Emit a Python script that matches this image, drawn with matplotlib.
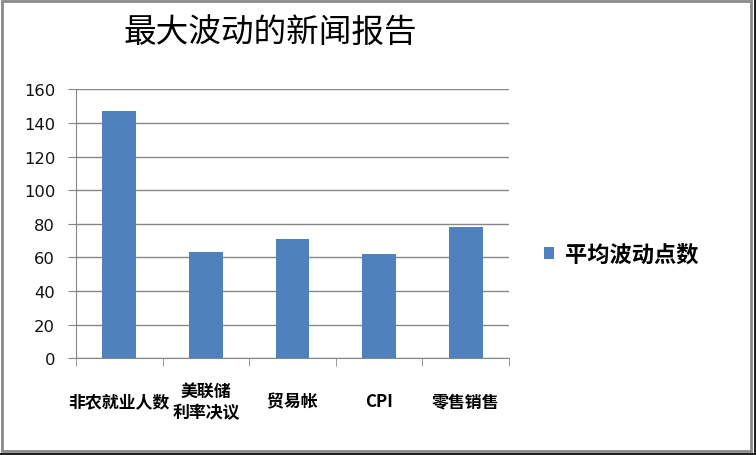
import matplotlib
matplotlib.use("Agg")
import matplotlib.pyplot as plt
from matplotlib.patches import Rectangle
import numpy as np

plt.rcParams['font.family'] = ['Noto Sans CJK SC', 'DejaVu Sans']

title = "最大波动的新闻报告"
categories = ["非农就业人数", "美联储\n利率决议", "贸易帐", "CPI", "零售销售"]
values = [147, 63, 71, 62, 78]
series_name = "平均波动点数"
yticks = [0, 20, 40, 60, 80, 100, 120, 140, 160]

W, H = 756, 456
fig = plt.figure(figsize=(W / 100, H / 100), dpi=100)
ax = fig.add_axes([76 / W, 1 - 359.3 / H, (509 - 76) / W, (359.3 - 90.3) / H])

x = np.arange(len(categories))
bars = ax.bar(x, values, width=0.39, color="#4F81BD", zorder=3, label=series_name)

ax.set_xlim(-0.5, len(categories) - 0.5)
ax.set_ylim(0, 160)
ax.set_yticks(yticks)
ax.yaxis.grid(True, color="#868686", linewidth=1, zorder=0)
ax.tick_params(axis='y', length=6, color="#868686", pad=9, labelcolor="#111111")
for lab in ax.get_yticklabels():
    lab.set_fontfamily('DejaVu Sans')
    lab.set_fontsize(11.8)

# category labels centred, ticks at boundaries
ax.set_xticks(x)
ax.set_xticklabels(categories, fontsize=12.2, fontweight='bold', linespacing=1.25)
ax.tick_params(axis='x', which='major', length=0, pad=31)
for lab in ax.get_xticklabels():
    lab.set_verticalalignment('center')
ax.set_xticks(np.arange(-0.5, len(categories)), minor=True)
ax.tick_params(axis='x', which='minor', length=6, color="#868686")

for side in ['top', 'right']:
    ax.spines[side].set_visible(False)
for side in ['left', 'bottom']:
    ax.spines[side].set_color("#868686")

fig.text(270 / W, 1 - 33 / H, title, fontsize=23.5, ha='center', va='center', color="#000000")

fig.legend(handles=[bars], labels=[series_name], loc='center left',
           bbox_to_anchor=(524 / W, 1 - 255 / H), frameon=False,
           prop={'size': 16, 'weight': 'bold'}, handlelength=0.45, handleheight=0.45,
           handletextpad=0.5)

# outer frame
fig.patches.append(Rectangle((1.5 / W, 4 / H), (751 - 1.5) / W, (454.5 - 4) / H,
                             transform=fig.transFigure, fill=False,
                             edgecolor="#8a8a8a", linewidth=2))
fig.patches.append(Rectangle((754 / W, 0), 2 / W, 1, transform=fig.transFigure,
                             color="#222222", linewidth=0))
fig.patches.append(Rectangle((0, 0), 1, 2 / H, transform=fig.transFigure,
                             color="#222222", linewidth=0))

fig.savefig("out.png", dpi=100)
